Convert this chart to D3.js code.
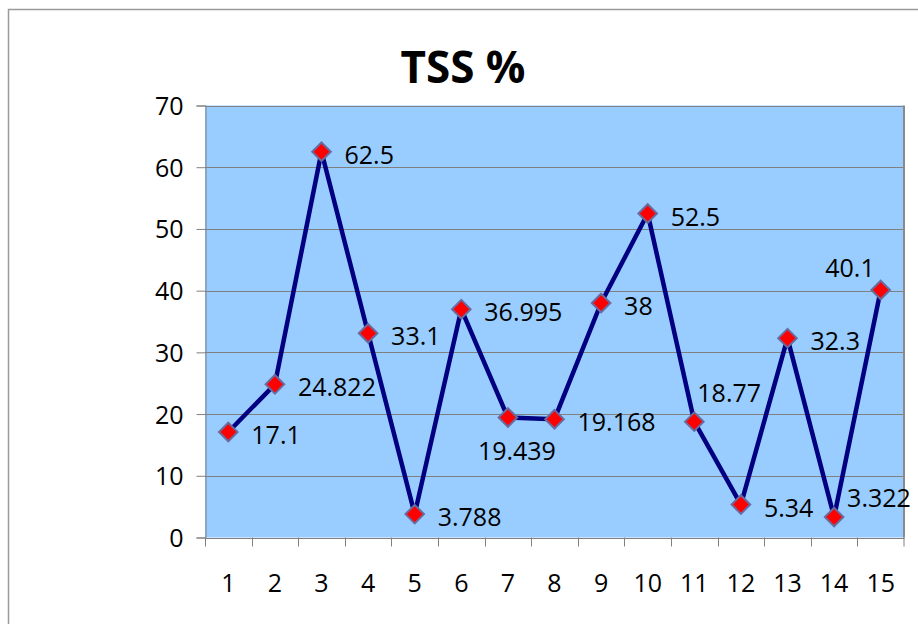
<!DOCTYPE html>
<html>
<head>
<meta charset="utf-8">
<script src="https://cdn.jsdelivr.net/npm/d3@7"></script>
<style>
  body { margin: 0; background: #fff; }
  svg text { font-family: "Open Sans", "Liberation Sans", sans-serif; fill: #000; }
</style>
</head>
<body>
<div id="chart"></div>
<script>
// data
var categories = ["1", "2", "3", "4", "5", "6", "7", "8", "9", "10", "11", "12", "13", "14", "15"];
var values = [17.1, 24.822, 62.5, 33.1, 3.788, 36.995, 19.439, 19.168, 38, 52.5, 18.77, 5.34, 32.3, 3.322, 40.1];
var labelPlace = ["right", "right", "right", "right", "right", "right", "below", "right", "right", "right", "aboveRight", "right", "right", "upRight", "aboveLeft"];
var yTicks = [0, 10, 20, 30, 40, 50, 60, 70];

var width = 918, height = 624;
var plot = { left: 205, top: 105.5, right: 904, bottom: 537.5 };

var svg = d3.select("#chart").append("svg")
    .attr("width", width)
    .attr("height", height);

// outer frame
svg.append("rect")
    .attr("x", 8.5).attr("y", 9.5)
    .attr("width", 960).attr("height", 700)
    .attr("fill", "#fff")
    .attr("stroke", "#9a9a9a")
    .attr("stroke-width", 1.5);

var x = d3.scaleBand()
    .domain(categories)
    .range([plot.left, plot.right]);

var y = d3.scaleLinear()
    .domain([0, 70])
    .range([plot.bottom, plot.top]);

// plot background
svg.append("rect")
    .attr("x", plot.left).attr("y", plot.top)
    .attr("width", plot.right - plot.left)
    .attr("height", plot.bottom - plot.top)
    .attr("fill", "#99ccff");

// gridlines
svg.append("g").selectAll("line")
    .data(yTicks.slice(1))
    .enter().append("line")
    .attr("x1", plot.left).attr("x2", plot.right)
    .attr("y1", function(d) { return Math.round(y(d)) + 0.5; })
    .attr("y2", function(d) { return Math.round(y(d)) + 0.5; })
    .attr("stroke", "#808080")
    .attr("stroke-width", 1);

// right border (shadowed)
svg.append("line")
    .attr("x1", plot.right).attr("x2", plot.right)
    .attr("y1", plot.top).attr("y2", plot.bottom)
    .attr("stroke", "#8a8a8a")
    .attr("stroke-width", 2);

// y axis
var yAxis = svg.append("g")
    .attr("transform", "translate(" + (plot.left + 0.5) + ",0)")
    .call(d3.axisLeft(y).tickValues(yTicks).tickSize(9).tickPadding(13));
yAxis.selectAll("path, line").attr("stroke", "#808080");
yAxis.selectAll("text")
    .style("font-size", "25px")
    .attr("dy", "0.36em");

// x axis
var xAxis = svg.append("g")
    .attr("transform", "translate(0," + (plot.bottom + 0.5) + ")")
    .call(d3.axisBottom(x).tickSize(0).tickPadding(0));
xAxis.select(".domain").attr("stroke", "#808080");
xAxis.selectAll("text")
    .style("font-size", "25px")
    .attr("y", 54)
    .attr("dy", "0");

// x tick marks at category boundaries
svg.append("g").selectAll("line")
    .data(categories)
    .enter().append("line")
    .attr("x1", function(d) { return Math.round(x(d)) + 0.5; })
    .attr("x2", function(d) { return Math.round(x(d)) + 0.5; })
    .attr("y1", plot.bottom).attr("y2", plot.bottom + 9)
    .attr("stroke", "#808080");
svg.append("line")
    .attr("x1", plot.right).attr("x2", plot.right)
    .attr("y1", plot.bottom).attr("y2", plot.bottom + 9)
    .attr("stroke", "#808080");

// line
var cx = function(d, i) { return x(categories[i]) + x.bandwidth() / 2; };
var line = d3.line()
    .x(function(d, i) { return cx(d, i); })
    .y(function(d) { return y(d); });

svg.append("path")
    .datum(values)
    .attr("d", line)
    .attr("fill", "none")
    .attr("stroke", "#000080")
    .attr("stroke-width", 4.5)
    .attr("stroke-linejoin", "round");

// markers
var diamond = d3.symbol().type(d3.symbolDiamond2).size(220);
svg.append("g").selectAll("path")
    .data(values)
    .enter().append("path")
    .attr("d", diamond)
    .attr("transform", function(d, i) { return "translate(" + cx(d, i) + "," + y(d) + ")"; })
    .attr("fill", "#ff0000")
    .attr("stroke", "#6a6a9e")
    .attr("stroke-width", 2);

// data labels
var place = {
    right:      { dx: 23, dy: 3, anchor: "start" },
    below:      { dx: 9, dy: 33, anchor: "middle" },
    aboveRight: { dx: 3, dy: -29, anchor: "start" },
    upRight:    { dx: 13, dy: -19, anchor: "start" },
    aboveLeft:  { dx: -6, dy: -22, anchor: "end" }
};
svg.append("g").selectAll("text")
    .data(values)
    .enter().append("text")
    .attr("x", function(d, i) { return cx(d, i) + place[labelPlace[i]].dx; })
    .attr("y", function(d, i) { return y(d) + place[labelPlace[i]].dy; })
    .attr("dy", "0.36em")
    .attr("text-anchor", function(d, i) { return place[labelPlace[i]].anchor; })
    .style("font-size", "25px")
    .text(function(d) { return d; });

// title
svg.append("text")
    .attr("x", 463)
    .attr("y", 83)
    .attr("text-anchor", "middle")
    .style("font-size", "44px")
    .style("font-weight", "bold")
    .text("TSS %");
</script>
</body>
</html>
